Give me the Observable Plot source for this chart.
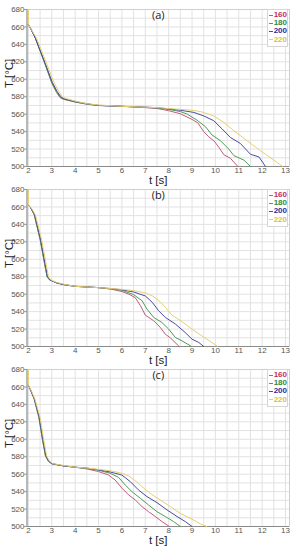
<!DOCTYPE html>
<html>
<head>
<meta charset="utf-8">
<script src="https://cdn.jsdelivr.net/npm/d3@7"></script>
<script src="https://cdn.jsdelivr.net/npm/@observablehq/plot@0.6"></script>
<style>
  html, body { margin: 0; padding: 0; background: #fff; }
  #root { position: relative; width: 298px; height: 550px; overflow: hidden; font-family: "Liberation Sans", Arial, sans-serif; }
  .panel { position: absolute; left: 0; width: 298px; height: 190px; }
  .legend { position: absolute; left: 267px; top: 9px; width: 21px; padding: 1px 0 2px 0; background: #fff; border: 1px solid #d6d6d6; box-sizing: border-box; }
  .legend .row { display: flex; align-items: center; height: 8.2px; }
  .legend .sw { display: inline-block; width: 5px; height: 1px; margin: 0 1px 0 1px; }
  .legend .lb { font-size: 8px; font-weight: bold; line-height: 8px; }
</style>
</head>
<body>
<div id="root"></div>
<script>
// ---- data ----
const panelLabels = ["(a)", "(b)", "(c)"];
const seriesNames = ["160", "180", "200", "220"];
const seriesColors = ["#c25a7e", "#4a9e52", "#4a4aa2", "#e8d070"];
const labelColors = ["#c0305c", "#2f8a3a", "#2a2a9a", "#e0bf3a"];
const xTicks = [2, 3, 4, 5, 6, 7, 8, 9, 10, 11, 12, 13];
const yTicks = [500, 520, 540, 560, 580, 600, 620, 640, 660, 680];
const xMinor = [2, 2.5, 3, 3.5, 4, 4.5, 5, 5.5, 6, 6.5, 7, 7.5, 8, 8.5, 9, 9.5, 10, 10.5, 11, 11.5, 12, 12.5, 13];
const yMinor = [500, 510, 520, 530, 540, 550, 560, 570, 580, 590, 600, 610, 620, 630, 640, 650, 660, 670, 680];
const xDomain = [1.94, 13.17];
const yDomain = [500, 680];
const xLabel = "t [s]";
const yLabel = "T [°C]";

// panel (a)
const a160 = [[2,662.5],[2.1,658],[2.3,647],[2.7,619],[3.0,596],[3.2,585],[3.35,579],[3.5,577],[4,574],[4.5,571.5],[5,570],[6,569],[7,567.5],[7.5,566.5],[8,564],[8.5,560.5],[9,554],[9.25,550],[9.5,540],[9.72,534],[9.95,529],[10.15,522],[10.36,513.5],[10.64,509.5],[10.96,500]];
const a180 = [[2,662.5],[2.1,658],[2.3,647],[2.7,618],[3.0,596],[3.2,586],[3.37,579.5],[3.5,577.5],[4,574],[4.5,571.5],[5,570],[6,569],[7,568],[7.5,567],[8,565.5],[8.5,563],[8.8,560],[9.22,553],[9.58,545.5],[9.86,536],[10.22,529.5],[10.57,520],[10.79,512.5],[11.22,507.3],[11.5,500]];
const a200 = [[2,662.5],[2.1,658],[2.3,647],[2.72,618],[3.03,596],[3.23,586],[3.4,579.5],[3.55,577.5],[4,574.5],[4.5,572],[5,570],[6,569],[7,568],[7.5,567.5],[8,566],[8.5,564.5],[9.08,562],[9.5,558],[9.93,552.5],[10.29,543],[10.64,533.3],[11.07,526.4],[11.5,514],[11.86,511],[12.07,503],[12.14,500]];
const a220 = [[2,680],[2,662.5],[2.1,658],[2.35,647],[2.78,618],[3.1,596],[3.3,586],[3.45,580],[3.6,578],[4,575],[4.5,572],[5,570.5],[6,569],[7,568],[7.5,567.5],[8,566.5],[8.5,565.5],[9,564.5],[9.36,563],[9.93,558],[10.36,550.5],[10.79,541],[11.36,529.5],[11.93,518],[12.5,507.3],[12.88,500]];

// panel (b)
const b160 = [[2,662],[2.1,659],[2.25,651],[2.5,623],[2.7,594],[2.8,580],[2.9,576.5],[3.2,573],[3.5,571],[4,569],[5,567.5],[5.5,566],[6,563],[6.3,560],[6.57,556],[6.79,547],[7,536],[7.36,529.5],[7.64,522],[7.86,514],[8.07,510],[8.45,500]];
const b180 = [[2,662],[2.1,659],[2.25,651],[2.5,623],[2.7,594],[2.8,580],[2.9,576.5],[3.2,573],[3.5,571],[4,569],[5,567.5],[5.5,566],[6,564.5],[6.5,559.5],[6.86,552.5],[7.07,543],[7.36,533.3],[7.71,527.6],[8.0,520],[8.29,510.3],[8.57,506.5],[8.98,500]];
const b200 = [[2,662],[2.1,659],[2.27,651],[2.52,623],[2.72,594],[2.82,580],[2.92,576.5],[3.2,573],[3.5,571],[4,569],[5,567.5],[5.5,566.5],[6,565],[6.5,562.5],[7.0,558],[7.3,550.6],[7.57,541],[7.86,533.3],[8.29,525.7],[8.71,516],[9.0,508.4],[9.29,504.6],[9.5,500]];
const b220 = [[2,680],[2,662],[2.12,659],[2.3,651],[2.56,623],[2.76,594],[2.86,580],[2.96,576.5],[3.2,573.5],[3.5,571.5],[4,569],[5,567.5],[5.5,566.5],[6,565.5],[6.5,564],[7.0,561.5],[7.3,558],[7.57,553],[7.86,545],[8.14,536],[8.57,528.5],[9.0,520],[9.43,512],[9.79,505.7],[10.1,500]];

// panel (c)
const c160 = [[2,662],[2.1,656],[2.25,646],[2.45,625],[2.6,600],[2.73,581],[2.85,575],[3.0,572],[3.5,569.5],[4,568],[4.5,566],[5,563],[5.43,559],[5.71,553.3],[6.0,544],[6.29,536.2],[6.57,530.5],[6.86,522.8],[7.14,517],[7.43,511.4],[7.71,505.7],[8.03,500]];
const c180 = [[2,662],[2.1,656],[2.25,646],[2.45,625],[2.6,600],[2.73,581],[2.85,575],[3.0,572],[3.5,569.5],[4,568],[4.5,566.5],[5,564.5],[5.5,561],[5.86,556.3],[6.14,547.6],[6.43,540],[6.79,532.3],[7.14,524.7],[7.5,517],[7.86,511.4],[8.21,505.7],[8.5,500]];
const c200 = [[2,662],[2.1,656],[2.26,646],[2.47,625],[2.62,600],[2.75,581],[2.87,575],[3.0,572],[3.5,569.5],[4,568],[4.5,567],[5,565],[5.5,562.5],[6.0,559],[6.36,551.4],[6.71,541.9],[7.07,534.3],[7.5,527.4],[7.93,519],[8.36,511.4],[8.71,505.7],[9.0,500]];
const c220 = [[2,680],[2,662],[2.12,656],[2.28,646],[2.5,625],[2.65,600],[2.78,581],[2.9,575],[3.05,572],[3.5,570],[4,568],[4.5,567],[5,565.5],[5.5,564],[6.0,561],[6.29,558],[6.57,552.5],[6.86,545.7],[7.21,538],[7.64,530.5],[8.07,522.8],[8.5,515],[9.0,508.4],[9.36,503],[9.63,500]];

const panels = [
  [a160, a180, a200, a220],
  [b160, b180, b200, b220],
  [c160, c180, c200, c220]
];
const panelTops = [0, 180, 360];

// ---- drawing ----
const root = document.getElementById("root");
const font = "'Liberation Sans', Arial, sans-serif";

panels.forEach((series, pi) => {
  const rows = [];
  series.forEach((pts, si) => pts.forEach(([t, T]) => rows.push({s: seriesNames[si], t, T})));

  const chart = Plot.plot({
    width: 298,
    height: 190,
    marginLeft: 26.5,
    marginRight: 9,
    marginTop: 9,
    marginBottom: 24,
    style: {background: "transparent", fontFamily: font, overflow: "visible"},
    x: {domain: xDomain, label: null},
    y: {domain: yDomain, label: null},
    color: {domain: seriesNames, range: seriesColors},
    marks: [
      Plot.gridX(xMinor, {stroke: "#e2e2e2", strokeOpacity: 1, strokeWidth: 1}),
      Plot.gridY(yMinor, {stroke: "#e2e2e2", strokeOpacity: 1, strokeWidth: 1}),
      Plot.frame({stroke: "#cfcfcf"}),
      Plot.ruleX([xDomain[0]], {stroke: "#8a8a8a"}),
      Plot.ruleY([yDomain[0]], {stroke: "#8a8a8a"}),
      Plot.axisY(yTicks, {tickSize: 2, tickPadding: 0.5, fontSize: 8, fill: "#555", stroke: "#8a8a8a", label: null}),
      Plot.axisX(xTicks, {tickSize: 0, tickPadding: 1, fontSize: 8, fill: "#555", label: null}),
      Plot.line(rows, {x: "t", y: "T", z: "s", stroke: "s", strokeWidth: 1, curve: "linear"}),
      Plot.text([panelLabels[pi]], {text: d => d, frameAnchor: "top", lineAnchor: "top", dy: 1.5, fontSize: 11, fill: "#222", fontFamily: "'Open Sans', sans-serif"}),
      Plot.text([xLabel], {text: d => d, frameAnchor: "bottom", lineAnchor: "middle", dy: 13.5, fontSize: 11.5, fill: "#222"}),
      Plot.text([yLabel], {text: d => d, frameAnchor: "left", lineAnchor: "middle", rotate: -90, dx: -18, fontSize: 11.5, fill: "#222"})
    ]
  });

  const panel = document.createElement("div");
  panel.className = "panel";
  panel.style.top = panelTops[pi] + "px";
  panel.appendChild(chart);

  const legend = document.createElement("div");
  legend.className = "legend";
  seriesNames.forEach((name, i) => {
    const row = document.createElement("div");
    row.className = "row";
    const sw = document.createElement("span");
    sw.className = "sw";
    sw.style.background = seriesColors[i];
    const lb = document.createElement("span");
    lb.className = "lb";
    lb.style.color = labelColors[i];
    lb.textContent = name;
    row.appendChild(sw);
    row.appendChild(lb);
    legend.appendChild(row);
  });
  panel.appendChild(legend);
  root.appendChild(panel);
});
</script>
</body>
</html>
